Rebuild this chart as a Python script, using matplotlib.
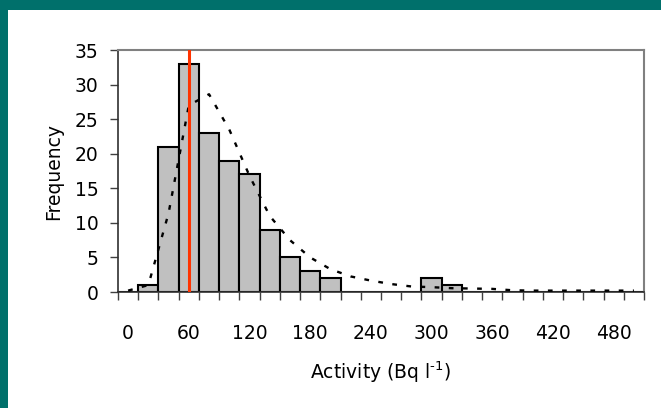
import numpy as np
import matplotlib
matplotlib.use("Agg")
import matplotlib.pyplot as plt
from matplotlib.patches import Rectangle

# categories (bin starts, Bq/l) and counts
bins = [0, 20, 40, 60, 80, 100, 120, 140, 160, 180, 200, 220, 240,
        260, 280, 300, 320, 340, 360, 380, 400, 420, 440, 460, 480, 500]
counts = [0, 1, 21, 33, 23, 19, 17, 9, 5, 3, 2, 0, 0,
          0, 0, 2, 1, 0, 0, 0, 0, 0, 0, 0, 0, 0]
# fitted curve (dotted line)
fit = [0.2, 1.0, 11.4, 27.0, 28.6, 23.5, 16.8, 11.0, 7.5, 5.0, 3.3, 2.25, 1.65,
       1.15, 0.8, 0.7, 0.55, 0.5, 0.45, 0.25, 0.2, 0.2, 0.2, 0.2, 0.2, 0.2]
ref_value = 60
tick_labels = ["0", "60", "120", "180", "240", "300", "360", "420", "480"]

plt.rcParams['font.family'] = ['DejaVu Sans']
FS = 13.5

W, H = 661, 408
fig = plt.figure(figsize=(W / 100, H / 100), dpi=100)
fig.patch.set_facecolor('#00706b')
panel = Rectangle((8 / W, 0), 1, (H - 10) / H, transform=fig.transFigure,
                  facecolor='white', edgecolor='none', zorder=-10)
fig.add_artist(panel)

ax = fig.add_axes([118 / W, 1 - 292 / H, (644 - 118) / W, (292 - 50) / H])
ax.set_facecolor('white')
ax.set_zorder(1)

idx = np.arange(len(bins))
ax.bar(idx, counts, width=1.0, color='#c0c0c0', edgecolor='black', linewidth=1.5, zorder=2)
ax.plot(idx, fit, color='black', lw=1.7, ls=(0, (2, 4)), zorder=3)
ax.axvline(bins.index(ref_value), color='#ff3300', lw=2.2, zorder=4)

ax.set_xlim(-0.5, len(bins) - 0.5)
ax.set_ylim(0, 35)
ax.set_yticks(range(0, 36, 5))

# category style axis: ticks between categories, labels under every 3rd
ax.set_xticks(idx[::3])
ax.set_xticklabels(tick_labels)
ax.set_xticks(np.arange(len(bins) + 1) - 0.5, minor=True)
ax.tick_params(axis='x', which='major', length=0, pad=23, labelsize=FS)
ax.tick_params(axis='x', which='minor', length=6, width=1, color='#404040', direction='out')
ax.tick_params(axis='y', length=6, width=1, color='#404040', pad=8, labelsize=FS)

for s in ['top', 'right']:
    ax.spines[s].set_color('#808080')
    ax.spines[s].set_linewidth(1.5)
for s in ['left', 'bottom']:
    ax.spines[s].set_color('#303030')
    ax.spines[s].set_linewidth(1.2)

ax.set_xlabel('Activity (Bq l$^{\\text{-1}}$)', fontsize=FS)
ax.set_ylabel('Frequency', fontsize=FS)
ax.xaxis.set_label_coords(0.5, -0.28)
ax.yaxis.set_label_coords(-0.105, 0.5)

fig.savefig('out.png', dpi=100, facecolor=fig.get_facecolor())
